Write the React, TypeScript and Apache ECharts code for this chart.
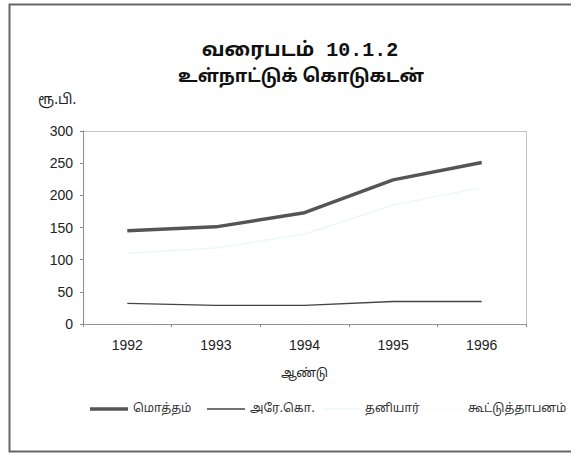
import React, { useEffect, useRef } from "react";
import * as echarts from "echarts";

const years = ["1992", "1993", "1994", "1995", "1996"];
const total = [145, 151, 173, 224, 251];
const govCorp = [32, 29, 29, 35, 35];
const privateSector = [110, 118, 140, 185, 212];
const coop = [3, 4, 4, 4, 4];
const seriesNames = ["மொத்தம்", "அரே.கொ.", "தனியார்", "கூட்டுத்தாபனம்"];
const yTicks = { min: 0, max: 300, interval: 50 };

const tamilFont = "'Noto Sans Tamil', 'Lohit Tamil', 'Noto Sans', sans-serif";
const numFont = "'Liberation Sans', Arial, sans-serif";

export default function App() {
  const ref = useRef<HTMLDivElement>(null);
  useEffect(() => {
    if (!ref.current) return;
    const chart = echarts.init(ref.current, null, { renderer: "svg" });
    const colors = ["#555555", "#444444", "#eaf8f8", "#f8fcfc"];
    const widths = [3.5, 1.3, 1.5, 1];
    const datas = [total, govCorp, privateSector, coop];
    const legendLeft = [85, 202, 317, 420];
    const gl = 83, gt = 131, gw = 443, gh = 193;
    chart.setOption({
      animation: false,
      backgroundColor: "#ffffff",
      grid: {
        left: gl,
        right: 571 - gl - gw,
        top: gt,
        bottom: 455 - gt - gh,
        show: false,
      },
      legend: seriesNames.map((n, i) => ({
        data: [n],
        left: legendLeft[i],
        top: 398,
        icon: "rect",
        itemWidth: 38,
        itemHeight: Math.max(widths[i], 1.2),
        itemGap: 10,
        textStyle: { fontFamily: tamilFont, fontSize: 12, color: "#333" },
        selectedMode: false,
      })),
      xAxis: {
        type: "category",
        data: years,
        boundaryGap: true,
        axisLine: { lineStyle: { color: "#888", type: "dotted" } },
        axisTick: { show: true, length: 3, lineStyle: { color: "#888" } },
        axisLabel: { fontFamily: numFont, fontSize: 14, color: "#222", margin: 14 },
        name: "ஆண்டு",
        nameLocation: "middle",
        nameGap: 44,
        nameTextStyle: { fontFamily: tamilFont, fontSize: 12, color: "#222" },
        splitLine: { show: false },
      },
      yAxis: {
        type: "value",
        min: yTicks.min,
        max: yTicks.max,
        interval: yTicks.interval,
        axisLine: { show: true, lineStyle: { color: "#777", type: "dotted" } },
        axisTick: { show: true, length: 3, lineStyle: { color: "#888" } },
        axisLabel: { fontFamily: numFont, fontSize: 14, color: "#222", margin: 10 },
        splitLine: { show: false },
      },
      series: seriesNames.map((n, i) => ({
        name: n,
        type: "line",
        data: datas[i],
        symbol: "none",
        showSymbol: false,
        lineStyle: { color: colors[i], width: widths[i] },
        itemStyle: { color: colors[i] },
        z: 10 - i,
      })),
      graphic: [
        {
          type: "rect",
          shape: { x: 9.5, y: 4.5, width: 600, height: 447 },
          style: { fill: "none", stroke: "#666", lineWidth: 2 },
          silent: true,
        },
        {
          type: "rect",
          shape: { x: gl + 0.5, y: gt + 0.5, width: gw, height: gh },
          style: { fill: "none", stroke: "#8a8a8a", lineWidth: 1, lineDash: [1, 1] },
          silent: true,
          z: 1,
        },
        {
          type: "text",
          x: 300,
          y: 50,
          style: {
            text: "வரைபடம் 10.1.2",
            fontFamily: "'Liberation Mono', " + tamilFont,
            fontWeight: "bold",
            fontSize: 20,
            fill: "#111",
            align: "center",
            verticalAlign: "middle",
          },
        },
        {
          type: "text",
          x: 301,
          y: 77,
          style: {
            text: "உள்நாட்டுக் கொடுகடன்",
            fontFamily: tamilFont,
            fontWeight: "bold",
            fontSize: 18,
            fill: "#111",
            align: "center",
            verticalAlign: "middle",
          },
        },
        {
          type: "text",
          x: 38,
          y: 100,
          style: {
            text: "ரூ.பி.",
            fontFamily: tamilFont,
            fontSize: 14,
            fill: "#222",
            align: "left",
            verticalAlign: "middle",
          },
        },
      ],
    });
    return () => chart.dispose();
  }, []);
  return (
    <div
      ref={ref}
      style={{ position: "fixed", left: 0, top: 0, width: 571, height: 455 }}
    />
  );
}
